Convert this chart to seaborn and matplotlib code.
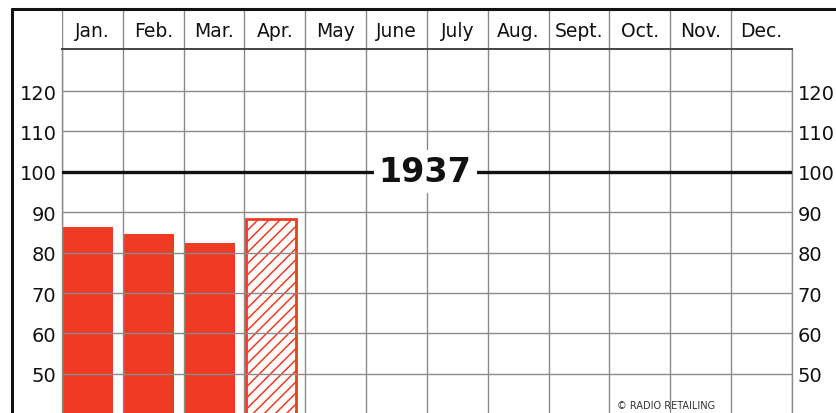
import numpy as np
import pandas as pd
import matplotlib.pyplot as plt
from matplotlib.lines import Line2D
import seaborn as sns

# ── Data ──────────────────────────────────────────────────────────────────────
MONTHS = ["Jan.", "Feb.", "Mar.", "Apr.", "May", "June", "July",
          "Aug.", "Sept.", "Oct.", "Nov.", "Dec."]
REPORTED = ["Jan.", "Feb.", "Mar.", "Apr."]
INDEX = [86.4, 84.7, 82.5, 88.2]
PRELIMINARY = "Apr."          # hatched bar (estimate)
Y_TICKS = [50, 60, 70, 80, 90, 100, 110, 120]
BASE_LINE = 100
YEAR = "1937"

# ── Style ─────────────────────────────────────────────────────────────────────
RED = "#EF3B24"
GRID = "#8a8a8a"
INK = "#111111"

sns.set_theme(style="white")
plt.rcParams["font.family"] = ["DejaVu Sans"]
plt.rcParams["hatch.linewidth"] = 1.1

W, H = 837, 414
fig = plt.figure(figsize=(W / 100, H / 100), dpi=100)


def fx(px):
    return px / W


def fy(px):
    return 1 - px / H


# main plot area
ax = fig.add_axes([fx(62), 0, fx(792) - fx(62), fy(50)])
df = pd.DataFrame({"month": REPORTED, "index": INDEX})
sns.barplot(data=df, x="month", y="index", order=MONTHS, color=RED,
            width=0.82, saturation=1, ax=ax, zorder=1)
for patch, m in zip(ax.patches, REPORTED):
    patch.set_edgecolor(RED)
    patch.set_linewidth(0)
    if m == PRELIMINARY:
        patch.set_facecolor("white")
        patch.set_hatch("///")
        patch.set_linewidth(2)

bounds = np.arange(len(MONTHS) + 1) - 0.43
ax.set_xlim(bounds[0], bounds[-1])
ax.set_ylim(40.3, 130.4)
ax.set_xticks(bounds, minor=True)
ax.set_xticks([])
ax.set_yticks(Y_TICKS)
ax.set_yticklabels([str(v) for v in Y_TICKS])
ax.grid(True, which="minor", axis="x", color=GRID, lw=1.0)
ax.grid(True, which="major", axis="y", color=GRID, lw=1.0)
ax.axvline(bounds[0], color=GRID, lw=1.0, clip_on=False)
ax.axvline(bounds[-1], color=GRID, lw=1.0, clip_on=False)
ax.set_axisbelow(False)
ax.tick_params(axis="y", length=0, labelleft=True, labelright=True,
               labelsize=14, pad=4, labelcolor=INK)
ax.set_xlabel("")
ax.set_ylabel("")
for s in ax.spines.values():
    s.set_visible(False)

ax.axhline(BASE_LINE, color=INK, lw=2.4, zorder=4)
ax.text(np.mean(ax.get_xlim()) - 0.03, BASE_LINE, YEAR, ha="center", va="center",
        fontsize=24, fontweight="bold", color=INK, zorder=5,
        bbox=dict(boxstyle="square,pad=0.15", fc="white", ec="none"))

# header row with month names
hx = fig.add_axes([fx(62), fy(50), fx(792) - fx(62), fy(12) - fy(50)])
hx.set_xlim(bounds[0], bounds[-1])
hx.set_ylim(0, 1)
hx.set_xticks(bounds[:-1], minor=True)
hx.set_xticks([])
hx.set_yticks([])
hx.grid(True, which="minor", axis="x", color=GRID, lw=1.0)
for s in ["top", "left", "right"]:
    hx.spines[s].set_visible(False)
hx.spines["bottom"].set_color("#444444")
hx.spines["bottom"].set_linewidth(1.4)
hx.patch.set_alpha(0)
for i, m in enumerate(MONTHS):
    hx.text(i + 0.07, 0.48, m, ha="center", va="center", fontsize=13.5, color=INK)

# frame: top rule and left rule
fig.add_artist(Line2D([fx(12), 1], [fy(10), fy(10)], color=INK, lw=2.2))
fig.add_artist(Line2D([fx(12), fx(12)], [fy(10), 0], color=INK, lw=2.2))

fig.text(fx(666), fy(406), "© RADIO RETAILING", ha="center", va="center",
         fontsize=7, color="#333333")

fig.savefig("out.png", dpi=100)
